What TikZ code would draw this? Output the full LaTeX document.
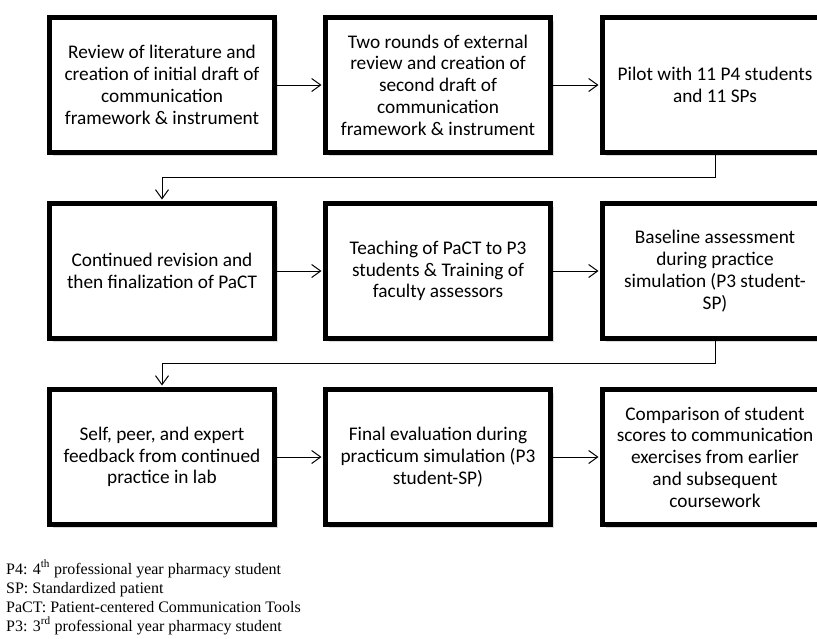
\documentclass[tikz,border=0pt]{standalone}
\usepackage{fontspec}
\setmainfont{Carlito}
\newfontfamily\leyfont{Liberation Serif}
\usetikzlibrary{arrows.meta,shadows}

\tikzset{
  paso/.style={draw=black, line width=5pt, fill=white, minimum width=225pt, minimum height=135pt,
    align=center, inner sep=0pt, font=\fontsize{19.3}{21.8}\selectfont,
    drop shadow={shadow xshift=3.5pt, shadow yshift=-3.5pt, fill=black!40, opacity=0.35}},
  flecha/.style={line width=1pt, -{Straight Barb[length=9pt,width=13pt,line width=1pt]}, shorten >=1.5pt},
  ley/.style={inner sep=0pt, font=\leyfont\fontsize{16}{19}\selectfont},
}

\begin{document}
\begin{tikzpicture}[x=1pt,y=-1pt]
    \clip (0,0) rectangle (817,638);

    %Fila1
    \node[paso] (p1) at (162,85) {Review of literature and\\creation of initial draft of\\communication\\framework \& instrument};
    \node[paso] (p2) at (438,85) {Two rounds of external\\review and creation of\\second draft of\\communication\\framework \& instrument};
    \node[paso] (p3) at (715,85) {Pilot with 11 P4 students\\and 11 SPs};

    %Fila2
    \node[paso] (p4) at (162,271) {Continued revision and\\then finalization of PaCT};
    \node[paso] (p5) at (438,271) {Teaching of PaCT to P3\\students \& Training of\\faculty assessors};
    \node[paso] (p6) at (715,271) {Baseline assessment\\during practice\\simulation (P3 student-\\SP)};

    %Fila3
    \node[paso] (p7) at (162,457) {Self, peer, and expert\\feedback from continued\\practice in lab};
    \node[paso] (p8) at (438,457) {Final evaluation during\\practicum simulation (P3\\student-SP)};
    \node[paso] (p9) at (715,457) {Comparison of student\\scores to communication\\exercises from earlier\\and subsequent\\coursework};

    %Flechas
    \foreach \x [evaluate={\y=int(\x+1);}] in {1,2,4,5,7,8}{
        \draw[flecha] (p\x) -- (p\y);
    }
    \draw[flecha] (p3.south) -- ++(0,22) -| (p4.north);
    \draw[flecha] (p6.south) -- ++(0,22) -| (p7.north);

    %Leyenda
    \foreach \t [count=\i from 0] in {{P4: 4\textsuperscript{th} professional year pharmacy student},
        {SP: Standardized patient},
        {PaCT: Patient-centered Communication Tools},
        {P3: 3\textsuperscript{rd} professional year pharmacy student}}{
        \node[ley, anchor=base west] (ley\i) at (6,574+19*\i) {\t};
    }

\end{tikzpicture}
\end{document}
